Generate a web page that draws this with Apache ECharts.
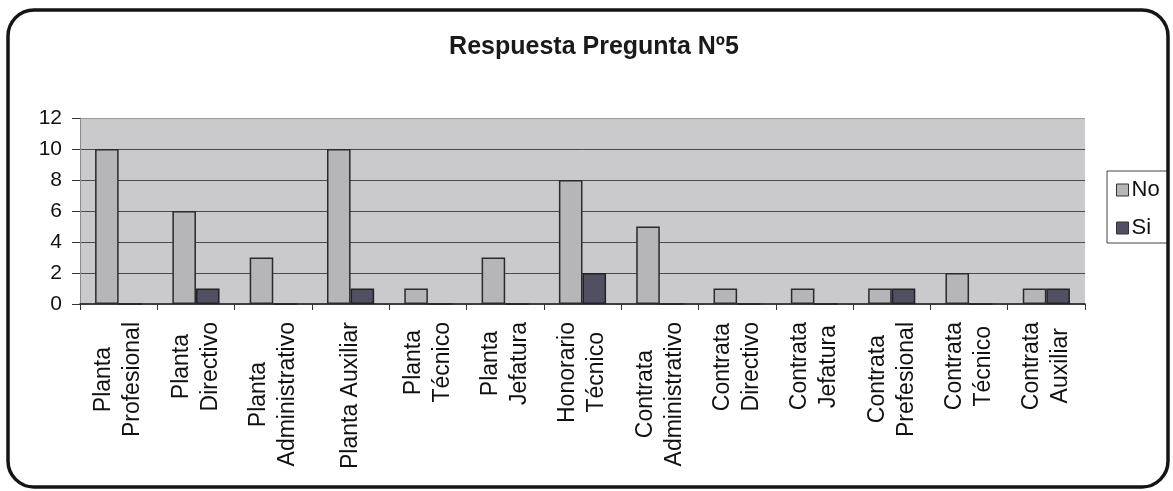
<!DOCTYPE html>
<html>
<head>
<meta charset="utf-8">
<script src="https://cdn.jsdelivr.net/npm/echarts@6/dist/echarts.min.js"></script>
<style>
html,body{margin:0;padding:0;background:#fff;}
#chart{width:1173px;height:491px;}
</style>
</head>
<body>
<div id="chart"></div>
<script>
const categories = [
  "Planta\nProfesional", "Planta\nDirectivo", "Planta\nAdministrativo", "Planta Auxiliar",
  "Planta\nTécnico", "Planta\nJefatura", "Honorario\nTécnico", "Contrata\nAdministrativo",
  "Contrata\nDirectivo", "Contrata\nJefatura", "Contrata\nPrefesional", "Contrata\nTécnico",
  "Contrata\nAuxiliar"
];
const seriesNo = [10, 6, 3, 10, 1, 3, 8, 5, 1, 1, 1, 2, 1];
const seriesSi = [0, 1, 0, 1, 0, 0, 2, 0, 0, 0, 1, 0, 1];
const yTicks = [0, 2, 4, 6, 8, 10, 12];
const titleText = "Respuesta Pregunta Nº5";

const FONT = "'Liberation Sans', Arial, sans-serif";
const LABEL_SIZE = 23;

// per-line rich styles: shorter lines get right padding so each label's lines are centred on each other
const ctx = document.createElement('canvas').getContext('2d');
ctx.font = LABEL_SIZE + "px 'Liberation Sans', Arial, sans-serif";
const rich = {};
categories.forEach(function (c, i) {
  const lines = c.split('\n');
  const widths = lines.map(s => ctx.measureText(s).width);
  const maxW = Math.max.apply(null, widths);
  lines.forEach(function (s, j) {
    rich['l' + i + '_' + j] = {
      fontSize: LABEL_SIZE, lineHeight: 29, fontFamily: FONT, color: '#111',
      padding: [0, Math.round((maxW - widths[j]) / 2), 0, 0]
    };
  });
});

function labelFormatter(v) {
  const i = categories.indexOf(v);
  if (i < 0) return v;
  return v.split('\n').map((s, j) => '{l' + i + '_' + j + '|' + s + '}').join('\n');
}

const chart = echarts.init(document.getElementById('chart'));
chart.setOption({
  animation: false,
  backgroundColor: '#ffffff',
  textStyle: { fontFamily: FONT },
  title: {
    text: titleText,
    left: 589, top: 30, textAlign: 'center',
    textStyle: { fontFamily: FONT, fontSize: 25, fontWeight: 'bold', color: '#1a1a1a' }
  },
  graphic: [{
    type: 'rect', z: 100, silent: true,
    shape: { x: 8, y: 10, width: 1160, height: 477, r: 26 },
    style: { fill: 'none', stroke: '#151515', lineWidth: 3.5 }
  }],
  legend: {
    orient: 'vertical', left: 1107, top: 171,
    padding: [8, 8, 4, 9], itemGap: 16,
    itemWidth: 12, itemHeight: 12, itemStyle: { borderColor: '#333', borderWidth: 1 },
    borderColor: '#444', borderWidth: 1,
    icon: 'rect',
    textStyle: { fontFamily: FONT, fontSize: 22, color: '#111', padding: [0, 0, 0, -2] },
    data: ['No', 'Si']
  },
  grid: {
    left: 80, right: 88, top: 118, bottom: 187,
    show: true, backgroundColor: '#cacacd', borderWidth: 0
  },
  xAxis: {
    type: 'category', data: categories,
    axisLine: { show: true, lineStyle: { color: '#111', width: 1.5 } },
    axisTick: { show: true, inside: false, length: 6, alignWithLabel: false, lineStyle: { color: '#333' } },
    axisLabel: {
      rotate: 90, margin: 18, interval: 0, color: '#111',
      formatter: labelFormatter,
      rich: rich
    }
  },
  yAxis: {
    type: 'value', min: 0, max: 12, interval: 2,
    axisLine: { show: true, lineStyle: { color: '#8a8a8a', width: 1 } },
    axisTick: { show: true, length: 8, lineStyle: { color: '#333' } },
    axisLabel: {
      margin: 18, fontSize: 21, color: '#111', fontFamily: FONT,
      formatter: function (v) { return yTicks.indexOf(v) >= 0 ? String(v) : ''; }
    },
    splitLine: {
      show: true,
      lineStyle: { color: ['#cacacd', '#4a4a4a', '#4a4a4a', '#4a4a4a', '#4a4a4a', '#4a4a4a', '#9a9a9a'], width: 1 }
    }
  },
  series: [
    {
      name: 'No', type: 'bar', data: seriesNo,
      barGap: '0%', barCategoryGap: '39%',
      itemStyle: { color: '#b6b6b9', borderColor: '#2a2a2a', borderWidth: 1.5 }
    },
    {
      name: 'Si', type: 'bar', data: seriesSi,
      itemStyle: { color: '#505062', borderColor: '#222', borderWidth: 1.5 }
    }
  ]
});
</script>
</body>
</html>
